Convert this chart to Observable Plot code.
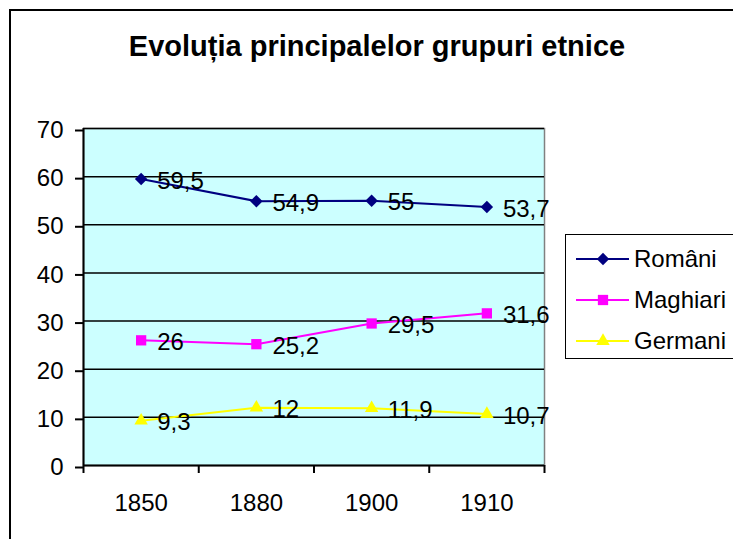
<!DOCTYPE html>
<html><head><meta charset="utf-8">
<script src="https://cdn.jsdelivr.net/npm/d3@7"></script>
<script src="https://cdn.jsdelivr.net/npm/@observablehq/plot@0.6"></script>
<style>
body{margin:0;background:#fff;}
#wrap{position:relative;width:733px;height:539px;overflow:hidden;font-family:"Liberation Sans",Arial,sans-serif;color:#000;}
#border{position:absolute;left:9px;top:9px;width:800px;height:600px;border:2px solid #000;box-sizing:border-box;}
#title{position:absolute;top:30px;left:377px;transform:translateX(-50%);white-space:nowrap;font-weight:bold;font-size:29px;}
#chart{position:absolute;left:0;top:0;line-height:0;}
#chart svg{display:block;}
#legend{position:absolute;left:565px;top:234px;width:220px;height:125px;border:1.5px solid #000;box-sizing:border-box;background:#fff;}
.row{position:absolute;left:0;height:30px;width:220px;}
.row svg{position:absolute;left:8px;top:0;}
.row span{position:absolute;left:68px;top:0;font-size:24px;line-height:30px;}
</style></head>
<body><div id="wrap"><div id="border"></div><div id="chart"></div><div id="title">Evoluția principalelor grupuri etnice</div><div id="legend"></div></div>
<script>
const categories = ["1850", "1880", "1900", "1910"];
const seriesNames = ["Români", "Maghiari", "Germani"];
const romani = [59.5, 54.9, 55, 53.7];
const maghiari = [26, 25.2, 29.5, 31.6];
const germani = [9.3, 12, 11.9, 10.7];
const yTicks = [0, 10, 20, 30, 40, 50, 60, 70];

const colors = ["#000080", "#ff00ff", "#ffff00"];
const symbols = ["diamond2", "square", "triangle"];
const d3symbols = [d3.symbolDiamond2, d3.symbolSquare, d3.symbolTriangle];
const radii = [5.6, 5.8, 5.0];

const values = [romani, maghiari, germani];
const data = [];
values.forEach((vals, s) => vals.forEach((v, i) => data.push({
  series: seriesNames[s], i, v, label: String(v).replace(".", ",")
})));

const boundaries = d3.range(categories.length + 1).map(i => i - 0.5);
const font = '"Liberation Sans", Arial, sans-serif';

const chart = Plot.plot({
  width: 733, height: 539,
  marginLeft: 83, marginRight: 189, marginTop: 128, marginBottom: 74,
  style: {fontFamily: font, fontSize: "24px", background: "transparent", color: "#000"},
  x: {type: "linear", domain: [-0.5, categories.length - 0.5]},
  y: {domain: [0, 70]},
  color: {domain: seriesNames, range: colors},
  marks: [
    Plot.frame({fill: "#ccffff", stroke: "#808080", strokeWidth: 1.5}),
    Plot.gridY(yTicks.slice(1), {stroke: "#000", strokeOpacity: 1, strokeWidth: 1.5}),
    Plot.ruleX([-0.5], {stroke: "#000", strokeWidth: 2}),
    Plot.ruleY([0], {stroke: "#000", strokeWidth: 2}),
    Plot.axisY(yTicks, {tickSize: 8, tickPadding: 12, strokeWidth: 2, fontSize: 24, dy: 2, label: null}),
    Plot.axisX(boundaries, {tickSize: 8, strokeWidth: 2, tickFormat: () => "", label: null}),
    Plot.axisX(d3.range(categories.length), {tickSize: 0, tickPadding: 28, fontSize: 24, tickFormat: i => categories[i], label: null}),
    Plot.line(data, {x: "i", y: "v", z: "series", stroke: "series", strokeWidth: 2}),
    ...seriesNames.map((name, s) => Plot.dot(data.filter(d => d.series === name), {
      x: "i", y: "v", symbol: () => symbols[s], fill: colors[s], r: radii[s], stroke: "none"
    })),
    Plot.text(data, {x: "i", y: "v", text: "label", textAnchor: "start", dx: 16, dy: 2, fontSize: 24, fill: "#000"})
  ]
});
document.getElementById("chart").appendChild(chart);

// Legend
const legend = d3.select("#legend");
const symSizes = radii.map(r => Math.PI * r * r);
seriesNames.forEach((name, s) => {
  const row = legend.append("div").attr("class", "row").style("top", (9 + s * 41) + "px");
  const svg = row.append("svg").attr("width", 58).attr("height", 30);
  svg.append("line").attr("x1", 2).attr("x2", 55).attr("y1", 15).attr("y2", 15)
    .attr("stroke", colors[s]).attr("stroke-width", 2);
  svg.append("path").attr("transform", "translate(29,15)")
    .attr("d", d3.symbol(d3symbols[s], symSizes[s])()).attr("fill", colors[s]);
  row.append("span").text(name);
});
</script>
</body></html>
